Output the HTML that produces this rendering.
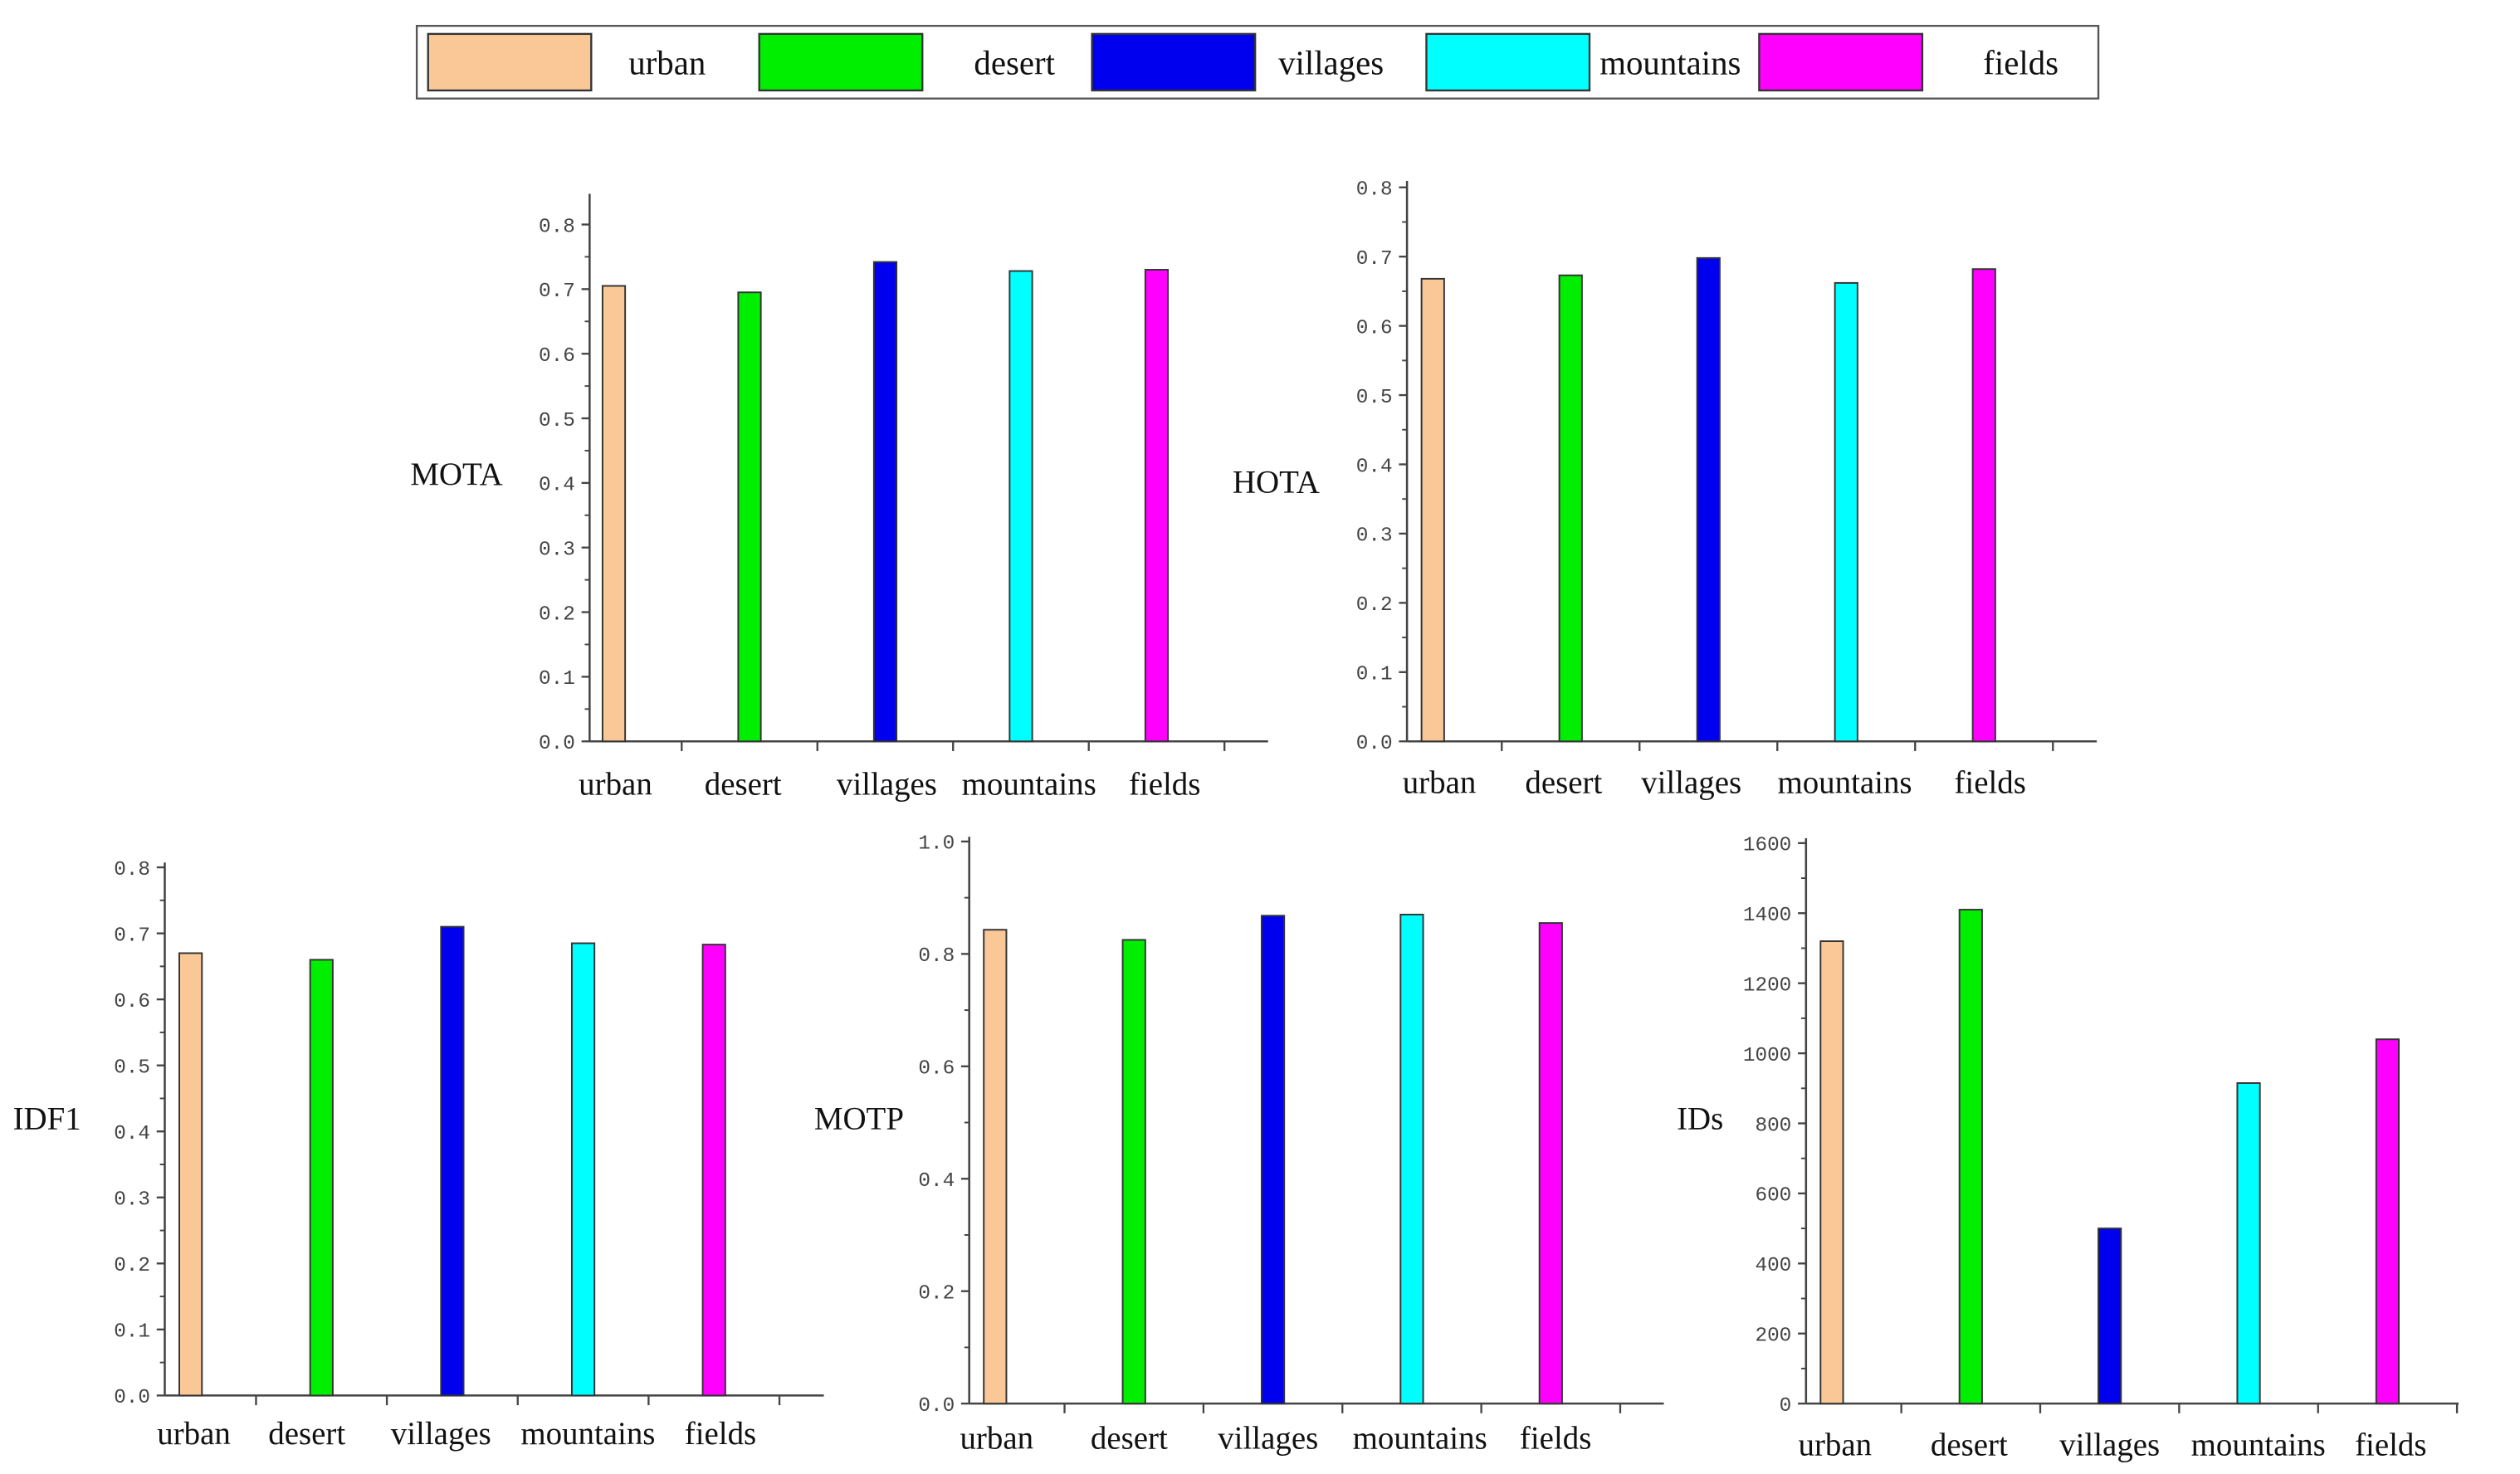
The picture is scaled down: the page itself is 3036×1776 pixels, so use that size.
<!DOCTYPE html>
<html><head><meta charset="utf-8"><style>
html,body{margin:0;padding:0;background:#fff;}
svg{display:block;}
</style></head><body>
<svg id="fig" width="3036" height="1776" viewBox="0 0 1560 912.6" preserveAspectRatio="none" xmlns="http://www.w3.org/2000/svg">
<g id="legend"></g>
<g id="charts"></g>
</svg>
<script>
const categories = ["urban","desert","villages","mountains","fields"];
const colors = ["#f9c896","#00ee00","#0000ee","#00ffff","#ff00ff"];
const motaValues = [0.705,0.695,0.742,0.728,0.730];
const hotaValues = [0.668,0.673,0.698,0.662,0.682];
const idf1Values = [0.670,0.660,0.710,0.685,0.683];
const motpValues = [0.843,0.825,0.868,0.870,0.855];
const idsValues = [1320,1410,500,915,1040];
const motaTicks = ["0.0","0.1","0.2","0.3","0.4","0.5","0.6","0.7","0.8"];
const hotaTicks = ["0.0","0.1","0.2","0.3","0.4","0.5","0.6","0.7","0.8"];
const idf1Ticks = ["0.0","0.1","0.2","0.3","0.4","0.5","0.6","0.7","0.8"];
const motpTicks = ["0.0","0.2","0.4","0.6","0.8","1.0"];
const idsTicks = ["0","200","400","600","800","1000","1200","1400","1600"];

const NS="http://www.w3.org/2000/svg";
function mk(tag,attrs,parent){const e=document.createElementNS(NS,tag);for(const k in attrs)e.setAttribute(k,attrs[k]);parent.appendChild(e);return e;}

// legend
const lg=document.getElementById('legend');
mk('rect',{x:258,y:16,width:1041,height:45,fill:'#fff',stroke:'#555','stroke-width':1.2},lg);
const swX=[265,470,676,883,1089];
const txX=[413,628,824,1034,1251];
categories.forEach((c,i)=>{
  const s=mk('rect',{x:swX[i],y:21,width:101,height:35,fill:colors[i],stroke:'#333','stroke-width':1.2},lg);
  
  
  const t=mk('text',{x:txX[i],y:46,'text-anchor':'middle','font-family':'Liberation Serif, serif','font-size':21,fill:'#111'},lg);
  t.textContent=c;
  
  
});

const charts=[
 {name:'mota',title:'MOTA',vals:motaValues,ticks:motaTicks,max:0.8,ax:365,y0:459,yTop:139,axTop:120,xEnd:785,b0:380,sp:84,tx:254,ty:300,labY:492,labX:[381,460,549,637,721]},
 {name:'hota',title:'HOTA',vals:hotaValues,ticks:hotaTicks,max:0.8,ax:871,y0:459,yTop:116,axTop:112,xEnd:1298,b0:887,sp:85.3,tx:763,ty:305,labY:491,labX:[891,968,1047,1142,1232]},
 {name:'idf1',title:'IDF1',vals:idf1Values,ticks:idf1Ticks,max:0.8,ax:102,y0:864,yTop:537,axTop:534,xEnd:510,b0:118,sp:81,tx:8,ty:699,labY:894,labX:[120,190,273,364,446]},
 {name:'motp',title:'MOTP',vals:motpValues,ticks:motpTicks,max:1.0,ax:600,y0:869,yTop:521,axTop:518,xEnd:1030,b0:616,sp:86,tx:504,ty:699,labY:897,labX:[617,699,785,879,963]},
 {name:'ids',title:'IDs',vals:idsValues,ticks:idsTicks,max:1600,ax:1118,y0:869,yTop:522,axTop:519,xEnd:1522,b0:1134,sp:86,tx:1038,ty:699,labY:901,labX:[1136,1219,1306,1398,1480]}
];
const root=document.getElementById('charts');
charts.forEach(ch=>{
  const g=mk('g',{},root);
  
  
  const y=v=>ch.y0-(v/ch.max)*(ch.y0-ch.yTop);
  // y axis
  mk('line',{x1:ch.ax,y1:ch.axTop,x2:ch.ax,y2:ch.y0,stroke:'#444','stroke-width':1.3},g);
  mk('line',{x1:ch.ax,y1:ch.y0,x2:ch.xEnd,y2:ch.y0,stroke:'#444','stroke-width':1.3},g);
  const n=ch.ticks.length;
  ch.ticks.forEach((t,i)=>{
    const v=ch.max*i/(n-1);
    const yy=y(v);
    mk('line',{x1:ch.ax-5,y1:yy,x2:ch.ax,y2:yy,stroke:'#444','stroke-width':1.2},g);
    if(i<n-1){const ym=y(v+ch.max/(n-1)/2);mk('line',{x1:ch.ax-3,y1:ym,x2:ch.ax,y2:ym,stroke:'#444','stroke-width':1},g);}
    const tl=mk('text',{x:ch.ax-9,y:yy+4.5,'text-anchor':'end','font-family':'Liberation Mono, monospace','font-size':12.5,fill:'#444'},g);
    tl.textContent=t;
    
    
  });
  // x ticks
  for(let i=0;i<5;i++){
    const xt=ch.ax+(ch.b0-ch.ax)+ch.sp*i+ch.sp*0.5;
    if(xt<ch.xEnd) mk('line',{x1:xt,y1:ch.y0,x2:xt,y2:ch.y0+6,stroke:'#444','stroke-width':1.2},g);
    if(i>0){const xm=ch.b0+ch.sp*i; mk('line',{x1:xm,y1:ch.y0-3,x2:xm,y2:ch.y0,stroke:'#444','stroke-width':1},g);}
  }
  ch.vals.forEach((v,i)=>{
    const cx=ch.b0+ch.sp*i;
    const b=mk('rect',{x:cx-7,y:y(v),width:14,height:ch.y0-y(v),fill:colors[i],stroke:'#333','stroke-width':1},g);
    
    
    const l=mk('text',{x:ch.labX[i],y:ch.labY,'text-anchor':'middle','font-family':'Liberation Serif, serif','font-size':20,fill:'#111'},g);
    l.textContent=categories[i];
    
    
  });
  const tt=mk('text',{x:ch.tx,y:ch.ty,'font-family':'Liberation Serif, serif','font-size':20,fill:'#111'},g);
  tt.textContent=ch.title;
  
  
});
</script>
</body></html>
